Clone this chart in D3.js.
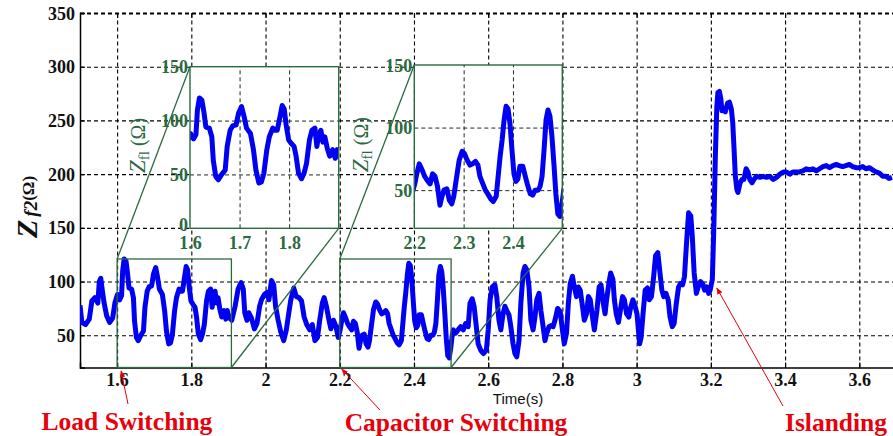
<!DOCTYPE html>
<html>
<head>
<meta charset="utf-8">
<script src="https://cdn.jsdelivr.net/npm/d3@7"></script>
<style>
  html, body { margin: 0; padding: 0; background: #fff; }
  svg { display: block; }
</style>
</head>
<body>
<svg id="chart" width="893" height="436"></svg>
<script>
// Z_f2 trace (time in s, impedance in ohm)
const timeS = [
  1.500, 1.505, 1.515, 1.525, 1.532, 1.540, 1.548, 1.552, 1.556, 1.560, 1.565, 1.572, 1.580, 1.588, 1.594,
  1.601, 1.607, 1.612, 1.615, 1.619, 1.624, 1.628, 1.632, 1.639, 1.644, 1.647, 1.652, 1.657, 1.664, 1.671,
  1.675, 1.681, 1.686, 1.693, 1.698, 1.704, 1.709, 1.714, 1.722, 1.728, 1.733, 1.739, 1.744, 1.749, 1.755,
  1.760, 1.767, 1.772, 1.776, 1.780, 1.786, 1.790, 1.794, 1.799, 1.804, 1.810, 1.814, 1.819, 1.825, 1.830,
  1.835, 1.841, 1.846, 1.852, 1.856, 1.859, 1.864, 1.868, 1.872, 1.877, 1.882, 1.888, 1.893, 1.897, 1.900,
  1.909, 1.918, 1.926, 1.934, 1.940, 1.944, 1.950, 1.955, 1.962, 1.970, 1.977, 1.984, 1.989, 1.997, 2.004,
  2.009, 2.016, 2.022, 2.027, 2.034, 2.041, 2.049, 2.056, 2.061, 2.068, 2.076, 2.083, 2.090, 2.097, 2.104,
  2.111, 2.119, 2.126, 2.133, 2.140, 2.146, 2.153, 2.158, 2.164, 2.171, 2.176, 2.183, 2.190, 2.196,
  2.201, 2.205, 2.210, 2.216, 2.221, 2.226, 2.232, 2.237, 2.242, 2.247, 2.252, 2.256, 2.260, 2.266, 2.271,
  2.276, 2.280, 2.286, 2.291, 2.297, 2.302, 2.307, 2.313, 2.318, 2.324, 2.329, 2.333, 2.339, 2.344, 2.349,
  2.355, 2.360, 2.366, 2.370, 2.374, 2.378, 2.382, 2.386, 2.390, 2.394, 2.398, 2.402, 2.406, 2.410, 2.414,
  2.420, 2.425, 2.429, 2.435, 2.440, 2.445, 2.451, 2.455, 2.459, 2.463, 2.467, 2.471, 2.475, 2.479, 2.483,
  2.487, 2.491, 2.495, 2.499, 2.503, 2.506, 2.512, 2.519, 2.526, 2.533, 2.539, 2.546, 2.551, 2.557, 2.562,
  2.568, 2.573, 2.580, 2.587, 2.595, 2.600, 2.605, 2.611, 2.618, 2.623, 2.629, 2.634, 2.640, 2.645, 2.650,
  2.656, 2.661, 2.667, 2.672, 2.677, 2.683, 2.688, 2.694, 2.699, 2.704, 2.710, 2.715, 2.721, 2.726, 2.731,
  2.737, 2.742, 2.748, 2.753, 2.758, 2.764, 2.769, 2.775, 2.780, 2.787, 2.794, 2.800, 2.805, 2.811, 2.816,
  2.821, 2.827, 2.832, 2.838, 2.843, 2.848, 2.854, 2.859, 2.865, 2.870, 2.875, 2.881, 2.886,
  2.893, 2.899, 2.904, 2.910, 2.915, 2.919, 2.925, 2.930, 2.936, 2.940, 2.945, 2.951, 2.956, 2.962, 2.967,
  2.973, 2.979, 2.984, 2.990, 2.995, 3.001, 3.005, 3.008, 3.012, 3.018, 3.023, 3.029, 3.034, 3.040, 3.046,
  3.051, 3.057, 3.062, 3.068, 3.073, 3.079, 3.085, 3.090, 3.096, 3.101, 3.107, 3.113, 3.118, 3.124, 3.129,
  3.135, 3.140, 3.146, 3.150, 3.155, 3.161, 3.166, 3.172, 3.178, 3.183, 3.189, 3.194, 3.198, 3.204,
  3.208, 3.212, 3.216, 3.219, 3.223, 3.227, 3.230, 3.234, 3.239, 3.245, 3.250, 3.255, 3.259, 3.263, 3.266,
  3.270, 3.273, 3.279, 3.284, 3.289, 3.295, 3.300, 3.305, 3.311, 3.316, 3.323, 3.332, 3.341, 3.350, 3.359,
  3.368, 3.377, 3.386, 3.395, 3.404, 3.413, 3.421, 3.430, 3.439, 3.448, 3.457, 3.466, 3.475, 3.484, 3.493,
  3.502, 3.511, 3.520, 3.529, 3.538, 3.546, 3.555, 3.564, 3.573, 3.582, 3.591, 3.600, 3.609, 3.618, 3.627,
  3.636, 3.645, 3.654, 3.663, 3.672, 3.680, 3.688
];
const zf2 = [
  78, 62, 60, 65, 82, 85, 80, 100, 103, 92, 80, 68, 62, 66, 80,
  88, 83, 87, 110, 121, 119, 108, 94, 93, 85, 63, 48, 45, 50, 54,
  76, 91, 95, 96, 107, 113, 104, 93, 88, 73, 54, 42, 43, 51, 73,
  85, 93, 91, 91, 100, 114, 111, 96, 82, 79, 76, 67, 51, 46, 51,
  60, 82, 91, 93, 76, 85, 91, 80, 85, 74, 67, 73, 65, 73, 67,
  64, 77, 93, 99, 93, 71, 64, 71, 66, 56, 61, 77, 83, 88, 90,
  83, 101, 97, 77, 64, 53, 45, 55, 67, 83, 94, 86, 85, 82, 67,
  60, 55, 60, 45, 48, 64, 80, 85, 77, 64, 56, 64, 58, 48,
  55, 63, 71, 66, 61, 58, 55, 63, 61, 53, 38, 45, 50, 51, 42,
  39, 45, 61, 74, 81, 79, 74, 70, 71, 73, 70, 61, 55, 50, 47,
  43, 41, 45, 61, 77, 90, 106, 117, 115, 103, 82, 63, 57, 59, 69,
  69, 61, 55, 47, 46, 50, 50, 53, 61, 82, 106, 114, 109, 93, 71,
  47, 31, 29, 38, 50, 55, 52, 55, 58, 55, 61, 58, 80, 84, 77,
  58, 42, 36, 33, 36, 55, 83, 95, 97, 86, 64, 55, 70, 77, 73,
  69, 58, 42, 33, 30, 45, 80, 108, 114, 111, 95, 64, 55, 67, 83,
  89, 73, 58, 45, 52, 58, 59, 58, 64, 75, 72, 55, 42, 52, 80,
  98, 105, 95, 86, 95, 92, 77, 64, 70, 86, 83, 67, 55,
  73, 95, 97, 80, 70, 83, 98, 108, 102, 83, 70, 62, 73, 86, 83,
  70, 67, 76, 83, 78, 70, 54, 42, 48, 73, 92, 94, 83, 86, 105,
  124, 127, 111, 92, 86, 89, 83, 67, 58, 61, 80, 95, 98, 97, 105,
  139, 164, 161, 142, 108, 89, 95, 100, 98, 92, 95, 89, 92, 102,
  150, 215, 262, 276, 277, 270, 259, 261, 258, 266, 267, 261, 248, 220, 198,
  186, 183, 192, 195, 195, 205, 202, 195, 192, 195, 198, 197, 198, 197, 198,
  195, 197, 200, 202, 202, 200, 202, 202, 202, 203, 205, 204, 205, 203, 205,
  207, 208, 206, 208, 209, 208, 207, 208, 209, 207, 206, 206, 207, 205, 206,
  204, 202, 201, 198, 198, 196, 197
];

const xTicks = [1.6, 1.8, 2, 2.2, 2.4, 2.6, 2.8, 3, 3.2, 3.4, 3.6];
const yTicks = [50, 100, 150, 200, 250, 300, 350];
const inset1XTicks = [1.6, 1.7, 1.8];
const inset1YTicks = [0, 50, 100, 150];
const inset2XTicks = [2.2, 2.3, 2.4];
const inset2YTicks = [50, 100, 150];
const eventNames = ['Load Switching', 'Capacitor Switching', 'Islanding'];
const eventTimes = [1.6, 2.2, 3.2];

const svg = d3.select('#chart');
const W = 893;
const serif = "'Liberation Serif', 'Times New Roman', serif";
const sans = "'Liberation Sans', Arial, sans-serif";
const green = '#2b6a3f';
const blue = '#0000f2';
const red = '#e8000b';

const pts = timeS.map((t, i) => [t, zf2[i]]);

// main scales
const x = d3.scaleLinear().domain([1.5, 3.7]).range([80, 896.4]);
const y = d3.scaleLinear().domain([20, 350]).range([367.5, 13]);
const plotL = 80, plotT = y(350), plotB = y(20);

const defs = svg.append('defs');
defs.append('clipPath').attr('id', 'clipMain')
  .append('rect').attr('x', plotL).attr('y', plotT).attr('width', W - plotL).attr('height', plotB - plotT);
defs.append('marker')
  .attr('id', 'arrow').attr('viewBox', '0 0 10 10').attr('refX', 9).attr('refY', 5)
  .attr('markerWidth', 7).attr('markerHeight', 7).attr('orient', 'auto')
  .append('path').attr('d', 'M0,1 L10,5 L0,9 Z').attr('fill', red);

// grid (dashed)
const gridX = svg.append('g')
  .attr('transform', `translate(0,${plotB})`)
  .call(d3.axisBottom(x).tickValues(xTicks).tickSize(-(plotB - plotT)).tickFormat(''));
const gridY = svg.append('g')
  .attr('transform', `translate(${plotL},0)`)
  .call(d3.axisLeft(y).tickValues(yTicks).tickSize(-(W - plotL)).tickFormat(''));
[gridX, gridY].forEach((g) => {
  g.select('.domain').remove();
  g.selectAll('line').attr('stroke', '#000').attr('stroke-width', 1.1).attr('stroke-dasharray', '4,3');
});
gridY.selectAll('.tick').filter((d) => d === 350).select('line').attr('stroke-width', 1.8);

// axes with inner ticks and bold labels
const axB = svg.append('g')
  .attr('transform', `translate(0,${plotB})`)
  .call(d3.axisBottom(x).tickValues(xTicks).tickSize(-5).tickPadding(6).tickFormat(d3.format('')));
const axT = svg.append('g')
  .attr('transform', `translate(0,${plotT})`)
  .call(d3.axisTop(x).tickValues(xTicks).tickSize(-5).tickFormat(''));
const axL = svg.append('g')
  .attr('transform', `translate(${plotL},0)`)
  .call(d3.axisLeft(y).tickValues(yTicks).tickSize(-5).tickPadding(5));
[axB, axT, axL].forEach((g) => {
  g.select('.domain').attr('stroke', '#000').attr('stroke-width', 1.5);
  g.selectAll('line').attr('stroke', '#000').attr('stroke-width', 1.2);
  g.selectAll('text').attr('font-family', serif).attr('font-weight', 'bold')
    .attr('font-size', 18).attr('fill', '#111');
});
axT.select('.domain').remove();
axL.selectAll('text').attr('dy', '0.34em');

// main trace
const line = d3.line().x((d) => x(d[0])).y((d) => y(d[1]));
svg.append('path')
  .datum(pts)
  .attr('clip-path', 'url(#clipMain)')
  .attr('d', line)
  .attr('fill', 'none')
  .attr('stroke', blue)
  .attr('stroke-width', 5)
  .attr('stroke-linejoin', 'round');

// insets
function drawInset(id, t0, t1, box, yDom, xt, yt, zoomTop, labelX) {
  const ix = d3.scaleLinear().domain([t0, t1]).range([box.l, box.r]);
  const iy = d3.scaleLinear().domain(yDom).range([box.b, box.t]);

  // zoom rectangle on the main plot
  const zr = { l: x(t0), r: x(zoomTop.tEnd), t: y(zoomTop.v), b: plotB };
  svg.append('rect')
    .attr('x', zr.l).attr('y', zr.t).attr('width', zr.r - zr.l).attr('height', zr.b - zr.t)
    .attr('fill', 'none').attr('stroke', green).attr('stroke-width', 1.3);

  const g = svg.append('g');
  g.append('rect')
    .attr('x', box.l).attr('y', box.t).attr('width', box.r - box.l).attr('height', box.b - box.t)
    .attr('fill', '#fff');

  defs.append('clipPath').attr('id', id)
    .append('rect').attr('x', box.l).attr('y', box.t).attr('width', box.r - box.l).attr('height', box.b - box.t);

  // inset grid
  const gx = g.append('g').attr('transform', `translate(0,${box.b})`)
    .call(d3.axisBottom(ix).tickValues(xt.slice(1)).tickSize(-(box.b - box.t)).tickFormat(''));
  const gy = g.append('g').attr('transform', `translate(${box.l},0)`)
    .call(d3.axisLeft(iy).tickValues(yt.filter((d) => d > yDom[0] && d < 150)).tickSize(-(box.r - box.l)).tickFormat(''));
  [gx, gy].forEach((a) => {
    a.select('.domain').remove();
    a.selectAll('line').attr('stroke', '#1d2b22').attr('stroke-width', 1).attr('stroke-dasharray', '4,3');
  });

  g.append('path')
    .datum(pts.filter((d) => d[0] >= t0 - 0.01 && d[0] <= t1 + 0.01))
    .attr('clip-path', `url(#${id})`)
    .attr('d', d3.line().x((d) => ix(d[0])).y((d) => iy(d[1])))
    .attr('fill', 'none')
    .attr('stroke', blue)
    .attr('stroke-width', 5)
    .attr('stroke-linejoin', 'round');

  g.append('rect')
    .attr('x', box.l).attr('y', box.t).attr('width', box.r - box.l).attr('height', box.b - box.t)
    .attr('fill', 'none').attr('stroke', green).attr('stroke-width', 1.4);

  // tick labels
  const lx = g.append('g').attr('transform', `translate(0,${box.b})`)
    .call(d3.axisBottom(ix).tickValues(xt).tickSize(0).tickPadding(8).tickFormat(d3.format('.1f')));
  const ly = g.append('g').attr('transform', `translate(${box.l},0)`)
    .call(d3.axisLeft(iy).tickValues(yt).tickSize(0).tickPadding(2).tickFormat(d3.format('')));
  [lx, ly].forEach((a) => {
    a.select('.domain').remove();
    a.selectAll('text').attr('font-family', serif).attr('font-size', 18)
      .attr('font-weight', 'bold').attr('fill', green);
  });
  ly.selectAll('text').attr('dy', (d) => (d === 0 ? '0.1em' : '0.34em'));

  // rotated y label
  const lab = g.append('text')
    .attr('transform', `translate(${labelX},${(box.t + box.b) / 2 - 2}) rotate(-90)`)
    .attr('text-anchor', 'middle')
    .attr('font-family', serif).attr('fill', green).attr('font-size', 20);
  lab.append('tspan').attr('font-style', 'italic').attr('font-size', 23).text('Z');
  lab.append('tspan').attr('font-size', 15).attr('dy', 4).text('fl');
  lab.append('tspan').attr('dy', -4).text(' (Ω)');

  // connectors
  svg.append('line')
    .attr('x1', zr.l).attr('y1', zr.t).attr('x2', box.l).attr('y2', box.t)
    .attr('stroke', green).attr('stroke-width', 1.3);
  svg.append('line')
    .attr('x1', zr.r).attr('y1', zr.b).attr('x2', box.r).attr('y2', box.b)
    .attr('stroke', green).attr('stroke-width', 1.3);
}

drawInset('clipIn1', 1.6, 1.9, { l: 190, r: 338.7, t: 66.7, b: 228.3 }, [0, 150],
  inset1XTicks, inset1YTicks, { tEnd: 1.908, v: 121 }, 145);
drawInset('clipIn2', 2.2, 2.5, { l: 414.3, r: 562.3, t: 65, b: 228.3 }, [19.5, 150],
  inset2XTicks, inset2YTicks, { tEnd: 2.5, v: 121 }, 368);

// axis titles
svg.append('text')
  .attr('x', 518).attr('y', 404)
  .attr('text-anchor', 'middle')
  .attr('font-family', sans).attr('font-size', 15).attr('fill', '#111')
  .text('Time(s)');

const yLab = svg.append('text')
  .attr('transform', 'translate(37,238) rotate(-90)')
  .attr('font-family', serif).attr('font-weight', 'bold').attr('fill', '#111');
yLab.append('tspan').attr('font-style', 'italic').attr('font-size', 30).text('Z');
yLab.append('tspan').attr('font-style', 'italic').attr('font-size', 19).attr('dx', 3).text('f2');
yLab.append('tspan').attr('font-size', 17).attr('dy', -3).text('(Ω)');

// event annotations
const labelPos = [[127, 430], [456, 431], [836, 431]];
const arrowFrom = [[128, 404], [380, 410], [783, 406]];
const arrowTo = [[x(eventTimes[0]) + 4, 371], [x(eventTimes[1]) + 2, 369], [x(eventTimes[2]) + 6, y(94)]];
eventNames.forEach((name, i) => {
  svg.append('line')
    .attr('x1', arrowFrom[i][0]).attr('y1', arrowFrom[i][1])
    .attr('x2', arrowTo[i][0]).attr('y2', arrowTo[i][1])
    .attr('stroke', red).attr('stroke-width', 1)
    .attr('marker-end', 'url(#arrow)');
  svg.append('text')
    .attr('x', labelPos[i][0]).attr('y', labelPos[i][1])
    .attr('text-anchor', 'middle')
    .attr('font-family', serif).attr('font-weight', 'bold').attr('font-size', 25.5)
    .attr('fill', red)
    .text(name);
});
</script>
</body>
</html>
